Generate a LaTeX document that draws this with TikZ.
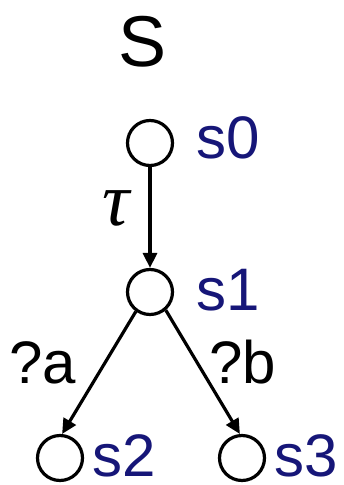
\documentclass[tikz,border=0pt]{standalone}
\usepackage{fontspec}
\setmainfont{Liberation Sans}
\newfontfamily\taufont{Liberation Serif}
\usetikzlibrary{arrows.meta}
\definecolor{statecol}{RGB}{22,22,120}
\begin{document}
\begin{tikzpicture}[x=1pt,y=-1pt,
  state/.style={circle,draw=black,line width=3.2pt,minimum size=45pt,inner sep=0pt},
  slabel/.style={anchor=base west,inner sep=0pt,text depth=0pt,text=statecol,font=\fontsize{60}{60}\selectfont},
  elabel/.style={anchor=base west,inner sep=0pt,font=\fontsize{60}{60}\selectfont},
  trans/.style={line width=3.2pt,-{Triangle[length=15pt,width=14pt]}}]
\useasboundingbox (0,0) rectangle (344,485);
\node[anchor=base west,inner sep=0pt,font=\fontsize{72}{72}\selectfont] (title) at (118,66) {S};
\node[state] (s0) at (150,143) {};
\node[state] (s1) at (150,292) {};
\node[state] (s2) at (60,458) {};
\node[state] (s3) at (242,458) {};
\node[slabel] (l0) at (196,158) {s0};
\node[slabel] (l1) at (196,310) {s1};
\node[slabel] (l2) at (92,476) {s2};
\node[slabel] (l3) at (274,476) {s3};
\draw[trans] (s0) -- (s1);
\draw[trans] (s1.234) -- (s2.85);
\draw[trans] (s1.311) -- (s3.95);
\node[anchor=base west,inner sep=0pt,font=\taufont\itshape\fontsize{76}{76}\selectfont] (tau) at (102,225) {τ};
\node[elabel] (qa) at (9,383) {?a};
\node[elabel] (qb) at (209,383) {?b};
\end{tikzpicture}
\end{document}
